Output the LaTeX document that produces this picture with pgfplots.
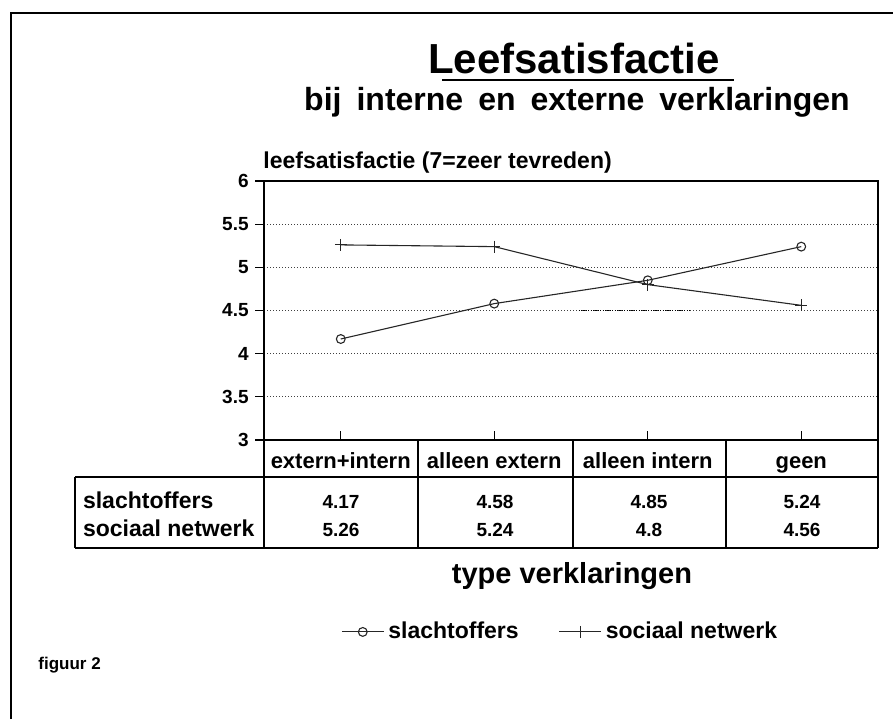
\documentclass[border=0pt]{standalone}
\usepackage{fontspec}
\setmainfont{Liberation Sans}
\usepackage{pgfplots}
\pgfplotsset{compat=1.18}
\newcommand\fs[1]{\fontsize{#1}{#1}\selectfont\bfseries}
\begin{document}
\begin{tikzpicture}
\begin{scope}[x=0.5pt,y=-0.5pt]
\path[use as bounding box] (0,0) rectangle (893,719);
\draw[line width=1.1pt] (11,719) -- (11,13) -- (893,13);
\node[anchor=base,font=\fs{21},inner sep=0pt] at (574,73) {Leefsatisfactie};
\draw[line width=1pt] (442,80) -- (734,80);
\node[anchor=base,font=\fs{16},inner sep=0pt] at (577,110) {\spaceskip=7.5pt bij interne en externe verklaringen};
\node[anchor=base west,font=\fs{11.5},inner sep=0pt] at (263,168) {leefsatisfactie (7=zeer tevreden)};
\end{scope}
\begin{axis}[
  at={(132pt,-220pt)}, anchor=south west,
  scale only axis, width=307pt, height=129.5pt,
  xmin=-0.5, xmax=3.5, ymin=3, ymax=6,
  xtick={0,1,2,3},
  xticklabels={extern+intern,alleen extern,alleen intern,geen},
  ytick={3,3.5,4,4.5,5,5.5,6},
  tick pos=left, tick align=outside, major tick length=4.5pt,
  xtick style={yshift=4.5pt, line width=0.6pt, black},
  ytick style={line width=0.6pt, black},
  axis line style={line width=0.8pt, black},
  ymajorgrids, major grid style={black!75, line width=0.5pt, dash pattern=on 0.5pt off 1pt},
  /pgf/number format/assume math mode=true,
  yticklabel style={font=\fs{9.5}, inner sep=3pt},
  xticklabel style={font=\fs{11}, anchor=center, yshift=-6.5pt, text height=1.55ex, text depth=0.3ex},
  legend style={at={(0.484,-0.741)}, anchor=center, draw=none, fill=none,
    legend columns=2, font=\fs{11.5},
    /tikz/every even column/.append style={column sep=18pt}},
  legend image code/.code={\draw[mark repeat=2,mark phase=2,#1] plot coordinates {(0pt,0pt)(10.5pt,0pt)(21pt,0pt)};},
  clip=false,
]
\addplot[black!85, line width=0.55pt, mark=o, mark size=2.2pt, mark options={solid, fill=white}]
  coordinates {(0,4.17)(1,4.58)(2,4.85)(3,5.24)};
\addlegendentry{slachtoffers}
\addplot[black!85, line width=0.55pt, mark=+, mark size=3pt]
  coordinates {(0,5.26)(1,5.24)(2,4.8)(3,4.56)};
\addlegendentry{sociaal netwerk}
\draw[black, line width=0.8pt, dash pattern=on 0.6pt off 0.6pt] (axis cs:1.55,4.5) -- (axis cs:2.27,4.5);
\end{axis}
\begin{scope}[x=0.5pt,y=-0.5pt]
\draw[line width=0.6pt] (264,440) -- (264,548)
  (418,440) -- (418,548) (573,440) -- (573,548) (726,440) -- (726,548) (878,440) -- (878,548)
  (75,477) -- (878,477) (75,548) -- (878,548) (75,477) -- (75,548);
\node[anchor=mid west,font=\fs{11.5}] at (76,503) {slachtoffers};
\node[anchor=mid west,font=\fs{11.5}] at (76,531) {sociaal netwerk};
\foreach \x/\v in {341/4.17,495/4.58,649/4.85,802/5.24}
  \node[anchor=mid,font=\fs{9.5}] at (\x,503) {\v};
\foreach \x/\v in {341/5.26,495/5.24,649/4.8,802/4.56}
  \node[anchor=mid,font=\fs{9.5}] at (\x,531) {\v};
\node[anchor=mid,font=\fs{14.5}] at (572,578) {type verklaringen};
\node[anchor=mid west,font=\fs{8.5},inner sep=0pt] at (38,664) {figuur 2};
\end{scope}
\end{tikzpicture}
\end{document}
